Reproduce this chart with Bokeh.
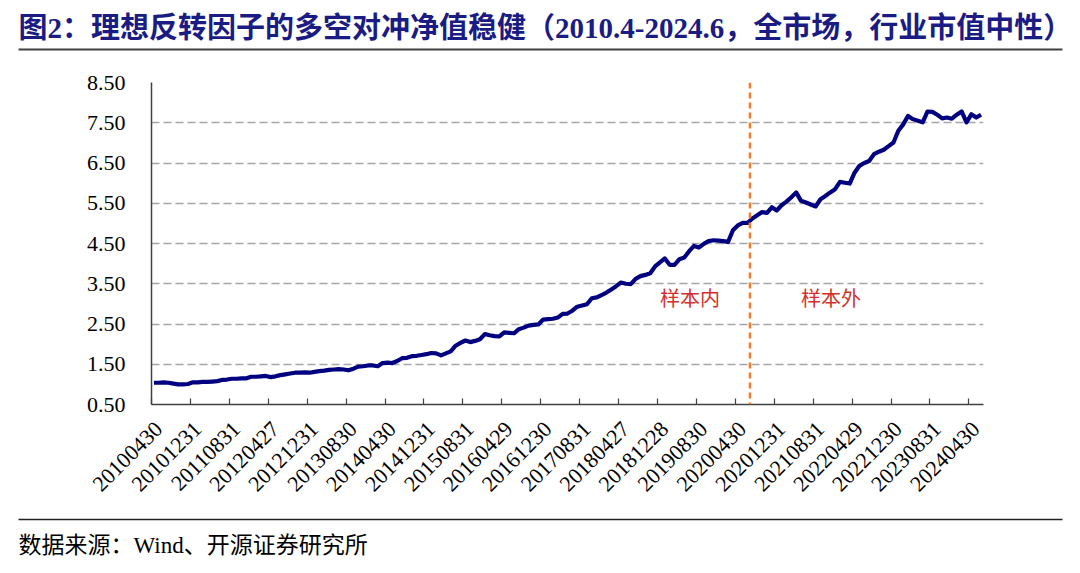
from bokeh.plotting import figure
from bokeh.layouts import column
from bokeh.models import Range1d, FixedTicker, Span, Label, PrintfTickFormatter
from bokeh.core.properties import value
from bokeh.embed import file_html
from bokeh.resources import INLINE
import math

# ---- data ----
tick_labels = ["20100430", "20101231", "20110831", "20120427", "20121231", "20130830",
               "20140430", "20141231", "20150831", "20160429", "20161230", "20170831",
               "20180427", "20181228", "20190830", "20200430", "20201231", "20210831",
               "20220429", "20221230", "20230831", "20240430"]
label_step = 8  # months between labels

nav = [1.04, 1.04, 1.05, 1.04, 1.02, 1.00, 1.00, 1.01, 1.05, 1.05,
       1.06, 1.06, 1.07, 1.08, 1.11, 1.12, 1.14, 1.14, 1.15, 1.15,
       1.19, 1.19, 1.20, 1.21, 1.18, 1.20, 1.23, 1.25, 1.27, 1.29,
       1.29, 1.30, 1.29, 1.31, 1.33, 1.34, 1.36, 1.37, 1.38, 1.37,
       1.35, 1.39, 1.44, 1.45, 1.47, 1.47, 1.45, 1.53, 1.54, 1.53,
       1.58, 1.65, 1.66, 1.70, 1.71, 1.73, 1.75, 1.78, 1.77, 1.72,
       1.77, 1.82, 1.96, 2.03, 2.09, 2.05, 2.08, 2.12, 2.25, 2.22,
       2.20, 2.19, 2.29, 2.28, 2.27, 2.37, 2.41, 2.46, 2.48, 2.49,
       2.61, 2.62, 2.63, 2.66, 2.75, 2.76, 2.83, 2.93, 2.96, 2.99,
       3.14, 3.16, 3.22, 3.28, 3.36, 3.44, 3.53, 3.50, 3.49, 3.62,
       3.69, 3.72, 3.76, 3.93, 4.03, 4.13, 3.97, 3.97, 4.11, 4.15,
       4.31, 4.44, 4.40, 4.49, 4.56, 4.58, 4.57, 4.56, 4.54, 4.83,
       4.95, 5.01, 5.01, 5.12, 5.20, 5.28, 5.26, 5.40, 5.32, 5.45,
       5.54, 5.65, 5.77, 5.56, 5.52, 5.47, 5.42, 5.60, 5.68, 5.77,
       5.85, 6.03, 6.01, 5.99, 6.26, 6.43, 6.50, 6.55, 6.72, 6.78,
       6.83, 6.92, 7.01, 7.30, 7.46, 7.67, 7.59, 7.55, 7.51, 7.78,
       7.77, 7.70, 7.61, 7.63, 7.60, 7.70, 7.78, 7.51, 7.71, 7.63,
       7.70]
split_month_index = 123  # first out-of-sample month (2020-07)

y_ticks = [0.5, 1.5, 2.5, 3.5, 4.5, 5.5, 6.5, 7.5, 8.5]

title_text = "图2：理想反转因子的多空对冲净值稳健（2010.4-2024.6，全市场，行业市值中性）"
source_text = "数据来源：Wind、开源证券研究所"
in_sample_text = "样本内"
out_sample_text = "样本外"

# ---- layout ----
W = 1072
H_HEAD, H_MAIN, H_FOOT = 60, 440, 65
FL, FR, FT, FB = 151, 89, 22, 95
mixed = "'Liberation Serif', 'Noto Sans CJK SC'"
serif = "Liberation Serif"


def banner(height):
    f = figure(width=W, height=height, output_backend="svg", toolbar_location=None,
               x_range=Range1d(0, W), y_range=Range1d(height, 0),
               x_axis_type=None, y_axis_type=None, min_border=0)
    f.grid.visible = False
    f.outline_line_color = None
    f.background_fill_color = "white"
    f.border_fill_color = "white"
    return f


# header
head = banner(H_HEAD)
head.text(x=[18], y=[27], text=[title_text], text_font=value(mixed), text_font_size=value("29px"),
          text_font_style="bold", text_color="#1B1B84", text_baseline="middle", text_align="left")
head.segment(x0=[18], x1=[1062], y0=[49], y1=[49], line_color="#404040", line_width=2)

# main chart
n = len(nav)
xs = list(range(n))
p = figure(width=W, height=H_MAIN, output_backend="svg", toolbar_location=None,
           x_range=Range1d(-0.5, n - 0.5), y_range=Range1d(y_ticks[0], y_ticks[-1]),
           min_border_left=FL, min_border_right=FR, min_border_top=FT, min_border_bottom=FB)
p.outline_line_color = None
p.background_fill_color = "white"
p.border_fill_color = "white"

label_pos = [i * label_step + 1.0 for i in range(len(tick_labels))]
tick_pos = [i * label_step - 0.5 for i in range(len(tick_labels))]
xa = p.xaxis[0]
xa.ticker = FixedTicker(ticks=label_pos, minor_ticks=tick_pos)
xa.major_label_overrides = {pos: lab for pos, lab in zip(label_pos, tick_labels)}
xa.major_label_orientation = math.pi / 4
xa.major_label_text_font = serif
xa.major_label_text_font_size = "22px"
xa.major_label_text_color = "black"
xa.major_label_standoff = 21
xa.axis_line_color = "#404040"
xa.axis_line_width = 1.5
xa.major_tick_line_color = None
xa.major_tick_in = 0
xa.major_tick_out = 0
xa.minor_tick_in = 6
xa.minor_tick_out = 0
xa.minor_tick_line_color = "#404040"
xa.minor_tick_line_width = 1.2

ya = p.yaxis[0]
ya.ticker = FixedTicker(ticks=y_ticks)
ya.formatter = PrintfTickFormatter(format="%.2f")
ya.major_label_text_font = serif
ya.major_label_text_font_size = "22px"
ya.major_label_text_color = "black"
ya.major_label_standoff = 26
ya.axis_line_color = "#404040"
ya.axis_line_width = 1.5
ya.major_tick_in = 0
ya.major_tick_out = 0
ya.minor_tick_line_color = None

p.xgrid.grid_line_color = None
p.ygrid.ticker = FixedTicker(ticks=y_ticks[1:])
p.ygrid.grid_line_color = "#A6A6A6"
p.ygrid.grid_line_width = 1.4
p.ygrid.grid_line_dash = "8 4"

p.line(xs, nav, line_color="#000080", line_width=4.2, line_join="round")

split_x = split_month_index - 0.5
p.add_layout(Span(location=split_x, dimension="height", line_color="#ED7D31",
                  line_width=2.5, line_dash="6 4"))
p.add_layout(Label(x=split_x - 18.5, y=3.15, text=in_sample_text, text_font="Noto Sans CJK SC",
                   text_font_size="20px", text_color="#D0312D", text_baseline="middle"))
p.add_layout(Label(x=split_x + 10.5, y=3.15, text=out_sample_text, text_font="Noto Sans CJK SC",
                   text_font_size="20px", text_color="#D0312D", text_baseline="middle"))

# footer
foot = banner(H_FOOT)
foot.segment(x0=[18], x1=[1062], y0=[19], y1=[19], line_color="#202020", line_width=1.4)
foot.text(x=[18], y=[45], text=[source_text], text_font=value(mixed), text_font_size=value("23px"),
          text_color="black", text_baseline="middle", text_align="left")

layout = column(column(head), p, column(foot), spacing=0)
open("out.html", "w").write(file_html(layout, INLINE))
